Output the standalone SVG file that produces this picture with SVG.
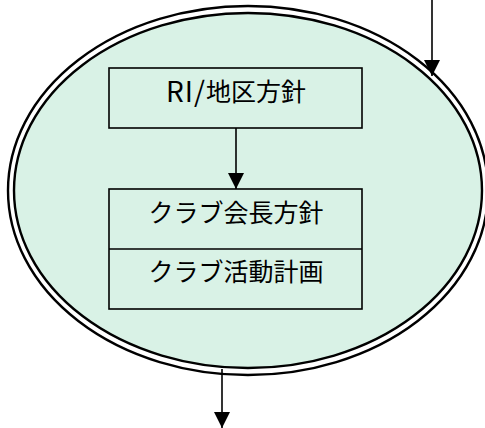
<svg xmlns="http://www.w3.org/2000/svg" width="485" height="428" viewBox="0 0 485 428">
<style>
.ell{stroke:#000;stroke-width:2.4}
.box{fill:#d9f2e6;stroke:#000;stroke-width:1.6}
.lbl{font-family:"Noto Sans CJK JP","Liberation Sans",sans-serif;font-size:25px;fill:#000;text-anchor:middle;dominant-baseline:central}
.con{stroke:#000;stroke-width:1.6;fill:none}
</style>
<defs>
<marker id="arr" markerWidth="16" markerHeight="16" viewBox="0 0 16 16" refX="16" refY="8" orient="auto" markerUnits="userSpaceOnUse">
<path d="M0,0 L16,8 L0,16 Z" fill="#000"/>
</marker>
</defs>
<g id="cycle">
<ellipse class="ell" cx="248" cy="190.5" rx="240" ry="184.5" fill="#fff"/>
<ellipse class="ell" cx="248" cy="190.5" rx="234" ry="177.5" fill="#d9f2e6"/>
</g>
<g id="ri">
<rect class="box" x="109" y="68" width="253" height="60"/>
<text class="lbl" x="236" y="90"><tspan font-size="28" letter-spacing="1">RI/</tspan>地区方針</text>
</g>
<g id="club">
<rect class="box" x="109" y="189" width="253" height="120"/>
<line class="con" x1="109" y1="249" x2="362" y2="249"/>
<text class="lbl" x="236" y="211">クラブ会長方針</text>
<text class="lbl" x="236" y="270">クラブ活動計画</text>
</g>
<g id="connectors">
<line class="con" x1="432" y1="0" x2="432" y2="76" marker-end="url(#arr)"/>
<line class="con" x1="236" y1="128" x2="236" y2="189" marker-end="url(#arr)"/>
<line class="con" x1="222" y1="369" x2="222" y2="428" marker-end="url(#arr)"/>
</g>
</svg>
